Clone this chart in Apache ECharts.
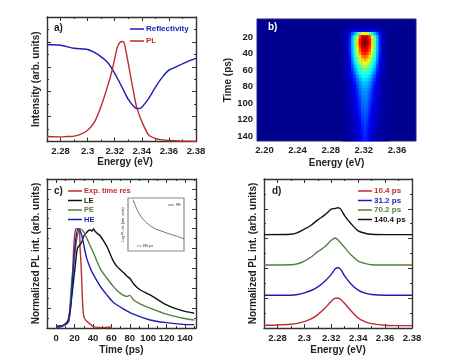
<!DOCTYPE html>
<html>
<head>
<meta charset="utf-8">
<style>
  html, body { margin: 0; padding: 0; background: #fff; }
  #chart { width: 474px; height: 361px; }
</style>
<script src="https://cdn.jsdelivr.net/npm/echarts@6/dist/echarts.min.js"></script>
</head>
<body>
<div id="chart"></div>
<script>
// panel a
const reflEnergy = [2.27, 2.28, 2.29, 2.3, 2.305, 2.31, 2.315, 2.32, 2.325, 2.33, 2.335, 2.3375, 2.34, 2.345, 2.35, 2.355, 2.36, 2.365, 2.37, 2.375, 2.38];
const reflValues = [0.779, 0.773, 0.749, 0.739, 0.715, 0.68, 0.632, 0.547, 0.445, 0.339, 0.272, 0.264, 0.275, 0.344, 0.435, 0.515, 0.573, 0.597, 0.624, 0.648, 0.667];
const plEnergy = [2.27, 2.28, 2.285, 2.29, 2.295, 2.3, 2.305, 2.31, 2.315, 2.318, 2.32, 2.322, 2.324, 2.3255, 2.327, 2.33, 2.335, 2.337, 2.34, 2.345, 2.35, 2.355, 2.36, 2.37, 2.38];
const plValues = [0.04, 0.037, 0.04, 0.043, 0.059, 0.091, 0.155, 0.285, 0.453, 0.568, 0.667, 0.76, 0.797, 0.803, 0.79, 0.627, 0.333, 0.248, 0.16, 0.053, 0.024, 0.013, 0.008, 0.003, 0];
const energyTicks = [2.28, 2.3, 2.32, 2.34, 2.36, 2.38];

// panel b, one cell per hmEnergy step; rows start at hmFirstRow, columns at hmFirstCol
const hmEnergy = [];
for (let k = 0; k < 64; k++) hmEnergy.push((2.1925 + k * 0.003).toFixed(4));
const hmTime = [0, 4, 8, 12, 16, 20, 24, 28, 32, 36, 40, 44, 48, 52, 56, 60, 64, 68, 72, 76, 80, 84, 88, 92, 96, 100, 104, 108, 112, 116, 120, 124, 128, 132, 136, 140, 144];
const hmFirstCol = 34, hmFirstRow = 2;
const hmRows = [
  [1, 1, 2, 2, 3, 3, 3, 3, 3, 3, 3, 3, 3, 3, 3, 2, 2, 1, 1],
  [2, 3, 4, 6, 7, 8, 9, 10, 10, 10, 10, 10, 9, 8, 7, 6, 4, 3, 2],
  [2, 3, 6, 13, 22, 30, 38, 50, 60, 62, 60, 50, 38, 30, 22, 13, 6, 3, 2],
  [2, 3, 6, 15, 30, 44, 60, 80, 92, 94, 92, 80, 60, 44, 30, 15, 6, 3, 2],
  [2, 3, 6, 16, 32, 46, 66, 86, 96, 100, 96, 86, 66, 46, 32, 16, 6, 3, 2],
  [2, 3, 6, 16, 32, 46, 66, 86, 96, 100, 96, 86, 66, 46, 32, 16, 6, 3, 2],
  [2, 3, 6, 16, 32, 46, 64, 82, 92, 96, 92, 82, 64, 46, 32, 16, 6, 3, 2],
  [2, 3, 6, 16, 31, 44, 60, 78, 88, 92, 88, 78, 60, 44, 31, 16, 6, 3, 2],
  [2, 3, 6, 15, 30, 42, 56, 72, 82, 86, 82, 72, 56, 42, 30, 15, 6, 3, 2],
  [2, 3, 6, 14, 28, 40, 52, 65, 74, 78, 74, 65, 52, 40, 28, 14, 6, 3, 2],
  [2, 3, 6, 13, 26, 37, 47, 58, 66, 70, 66, 58, 47, 37, 26, 13, 6, 3, 2],
  [2, 3, 6, 12, 23, 34, 43, 52, 58, 62, 58, 52, 43, 34, 23, 12, 6, 3, 2],
  [2, 3, 5, 11, 20, 31, 38, 46, 52, 54, 52, 46, 38, 31, 20, 11, 5, 3, 2],
  [2, 3, 5, 10, 18, 27, 35, 41, 46, 48, 46, 41, 35, 27, 18, 10, 5, 3, 2],
  [2, 3, 5, 9, 15, 23, 31, 37, 41, 43, 41, 37, 31, 23, 15, 9, 5, 3, 2],
  [2, 3, 4, 8, 13, 20, 27, 33, 37, 38, 37, 33, 27, 20, 13, 8, 4, 3, 2],
  [1, 3, 4, 7, 11, 17, 24, 30, 34, 35, 34, 30, 24, 17, 11, 7, 4, 3, 1],
  [1, 2, 4, 6, 10, 15, 21, 27, 31, 32, 31, 27, 21, 15, 10, 6, 4, 2, 1],
  [1, 2, 3, 6, 9, 13, 19, 25, 29, 30, 29, 25, 19, 13, 9, 6, 3, 2, 1],
  [1, 2, 3, 5, 8, 12, 17, 23, 27, 28, 27, 23, 17, 12, 8, 5, 3, 2, 1],
  [1, 2, 3, 5, 8, 11, 16, 21, 26, 27, 26, 21, 16, 11, 8, 5, 3, 2, 1],
  [1, 2, 3, 5, 7, 10, 15, 20, 25, 26, 25, 20, 15, 10, 7, 5, 3, 2, 1],
  [1, 2, 3, 4, 7, 10, 14, 19, 24, 25, 24, 19, 14, 10, 7, 4, 3, 2, 1],
  [1, 2, 3, 4, 6, 9, 13, 18, 23, 24, 23, 18, 13, 9, 6, 4, 3, 2, 1],
  [1, 2, 3, 4, 6, 9, 12, 17, 22, 23, 22, 17, 12, 9, 6, 4, 3, 2, 1],
  [1, 2, 2, 4, 6, 8, 11, 16, 21, 22, 21, 16, 11, 8, 6, 4, 2, 2, 1],
  [1, 2, 2, 4, 5, 8, 10, 15, 20, 21, 20, 15, 10, 8, 5, 4, 2, 2, 1],
  [1, 1, 2, 3, 5, 7, 10, 14, 19, 21, 19, 14, 10, 7, 5, 3, 2, 1, 1],
  [1, 1, 2, 3, 5, 7, 9, 13, 18, 20, 18, 13, 9, 7, 5, 3, 2, 1, 1],
  [1, 1, 2, 3, 5, 6, 9, 12, 17, 19, 17, 12, 9, 6, 5, 3, 2, 1, 1],
  [1, 1, 2, 3, 4, 6, 8, 12, 16, 19, 16, 12, 8, 6, 4, 3, 2, 1, 1],
  [1, 1, 2, 3, 4, 6, 8, 11, 15, 18, 15, 11, 8, 6, 4, 3, 2, 1, 1],
  [1, 1, 2, 3, 4, 5, 7, 10, 15, 17, 15, 10, 7, 5, 4, 3, 2, 1, 1],
  [0, 1, 2, 3, 4, 5, 7, 10, 14, 17, 14, 10, 7, 5, 4, 3, 2, 1, 0],
  [0, 1, 2, 2, 3, 5, 6, 9, 14, 16, 14, 9, 6, 5, 3, 2, 2, 1, 0]
];
const hmEnergyTicks = [2.2, 2.24, 2.28, 2.32, 2.36];
const hmTimeTicks = [20, 40, 60, 80, 100, 120, 140];
const jetColors = ["#00008f", "#0000ff", "#0080ff", "#00ffff", "#80ff80", "#ffff00", "#ff8000", "#ff0000", "#800000"];

// panel c
const expTime = [0, 5, 8, 13, 15, 17, 19, 20, 21, 22, 25, 26, 27, 28, 29, 30, 32, 35, 38, 41, 50, 60];
const expValues = [0.005, 0.01, 0.027, 0.08, 0.2, 0.38, 0.8, 0.93, 0.99, 1, 1, 0.8, 0.65, 0.42, 0.2, 0.12, 0.08, 0.055, 0.03, 0.012, 0.004, 0.01];
const leTime = [0, 5, 8, 12, 14, 17, 20.6, 23, 26, 28, 30, 33, 35, 37, 39, 40.5, 42, 45, 48, 52, 55, 58, 62, 66, 69.5, 74, 77, 80, 84, 91, 102, 120, 138, 150];
const leValues = [0.014, 0.02, 0.027, 0.045, 0.08, 0.32, 0.62, 0.8, 0.84, 0.87, 0.926, 0.96, 0.98, 0.986, 0.975, 1, 0.976, 0.95, 0.926, 0.87, 0.824, 0.76, 0.676, 0.62, 0.588, 0.55, 0.52, 0.5, 0.446, 0.385, 0.334, 0.233, 0.172, 0.149];
const peTime = [0, 5, 8, 12, 14, 17, 20.6, 23, 26, 30, 33, 40.5, 48, 55, 62, 69.5, 77, 80, 84, 91, 102, 120, 138, 150];
const peValues = [0.014, 0.02, 0.027, 0.05, 0.1, 0.49, 0.77, 0.925, 1, 0.966, 0.909, 0.757, 0.595, 0.503, 0.419, 0.351, 0.318, 0.328, 0.284, 0.243, 0.2, 0.139, 0.098, 0.081];
const heTime = [0, 5, 8, 12, 14, 16, 18, 20, 22, 24, 26, 28, 31, 33, 37, 40.5, 48, 55, 62, 73, 84, 102, 120, 138, 150];
const heValues = [0.014, 0.02, 0.027, 0.054, 0.115, 0.25, 0.52, 0.77, 0.94, 0.995, 0.98, 0.925, 0.79, 0.706, 0.605, 0.537, 0.419, 0.334, 0.26, 0.193, 0.139, 0.081, 0.054, 0.037, 0.034];
const timeTicks = [0, 20, 40, 60, 80, 100, 120, 140];
const insetTime = [9, 15, 21, 27, 33, 42, 51, 63, 75, 87, 100];
const insetValues = [0.968, 0.809, 0.682, 0.599, 0.535, 0.459, 0.408, 0.363, 0.318, 0.28, 0.229];

// panel d
const spec10Energy = [2.27, 2.28, 2.29, 2.295, 2.3, 2.305, 2.31, 2.315, 2.32, 2.323, 2.325, 2.327, 2.33, 2.335, 2.34, 2.345, 2.35, 2.36, 2.37, 2.38];
const spec10Values = [0.09, 0.101, 0.124, 0.157, 0.213, 0.303, 0.449, 0.652, 0.899, 1.0, 1.0, 0.955, 0.82, 0.562, 0.337, 0.213, 0.146, 0.09, 0.079, 0.079];
const spec31Energy = [2.27, 2.29, 2.295, 2.3, 2.305, 2.31, 2.315, 2.32, 2.323, 2.325, 2.327, 2.33, 2.335, 2.34, 2.345, 2.35, 2.36, 2.38];
const spec31Values = [1.101, 1.101, 1.124, 1.18, 1.258, 1.382, 1.562, 1.798, 1.989, 2.022, 1.966, 1.742, 1.461, 1.27, 1.169, 1.124, 1.101, 1.101];
const spec70Energy = [2.27, 2.29, 2.295, 2.3, 2.305, 2.31, 2.315, 2.32, 2.323, 2.325, 2.33, 2.335, 2.34, 2.345, 2.35, 2.36, 2.38];
const spec70Values = [2.112, 2.124, 2.157, 2.247, 2.382, 2.562, 2.719, 2.944, 3.022, 2.955, 2.697, 2.438, 2.247, 2.169, 2.124, 2.112, 2.112];
const spec140Energy = [2.27, 2.29, 2.295, 2.3, 2.305, 2.31, 2.315, 2.318, 2.32, 2.323, 2.325, 2.327, 2.33, 2.335, 2.34, 2.345, 2.35, 2.36, 2.38];
const spec140Values = [3.135, 3.146, 3.202, 3.315, 3.449, 3.629, 3.787, 3.91, 3.989, 4.011, 4.034, 3.989, 3.764, 3.483, 3.258, 3.18, 3.146, 3.135, 3.135];

const red = "#bf2b33", blue = "#1c1cb4", green = "#557f40", black = "#111", ink = "#222";
const font = "Liberation Sans";

const grids = [
  { left: 47, top: 17, width: 149, height: 124.5 },
  { left: 257, top: 19, width: 159, height: 122, show: true, backgroundColor: "#00008f", borderColor: "#23238f", borderWidth: 1 },
  { left: 47, top: 179, width: 149, height: 149 },
  { left: 264, top: 179, width: 148, height: 149 },
  { left: 128, top: 198, width: 56, height: 53, show: true, backgroundColor: "#fff", borderColor: "#888", borderWidth: 1.2 }
];

function zip(xs, ys) {
  return xs.map((x, i) => [x, ys[i]]);
}
function lineSeries(name, x, y, color, xi, yi, width) {
  return {
    name: name, type: "line", data: zip(x, y), xAxisIndex: xi, yAxisIndex: yi,
    symbol: "none", smooth: 0.25, lineStyle: { color: color, width: width || 1.4 }, itemStyle: { color: color }, silent: true
  };
}

let xAxes = [], yAxes = [];
// framed axes: labelled major ticks, mirrored on the far side, plus short minor ticks
function addFrame(list, gridIndex, min, max, minorStep, majors, name, nameGap, horizontal, labels) {
  const sides = horizontal ? ["bottom", "top"] : ["left", "right"];
  const first = list.length;
  sides.forEach((side, s) => {
    list.push({
      type: "value", gridIndex: gridIndex, position: side, min: min, max: max, interval: minorStep,
      splitLine: { show: false },
      axisLine: { show: true, onZero: false, lineStyle: { color: "#333", width: 1.4 } },
      axisTick: { show: true, inside: true, length: 2, lineStyle: { color: "#333", width: 1 } },
      axisLabel: { show: false }
    });
    list.push({
      type: "value", gridIndex: gridIndex, position: side, min: min, max: max,
      name: s === 0 ? name : "", nameLocation: "middle", nameGap: nameGap,
      nameTextStyle: { fontFamily: font, fontWeight: "bold", fontSize: 10, color: ink },
      splitLine: { show: false },
      axisLine: { show: false, onZero: false },
      axisTick: { show: true, inside: true, length: 4, customValues: majors, lineStyle: { color: "#333", width: 1 } },
      axisLabel: {
        show: s === 0 && labels, customValues: majors, margin: 5,
        fontFamily: font, fontWeight: "bold", fontSize: 9.5, color: ink, hideOverlap: false,
        formatter: (v) => String(v)
      }
    });
  });
  return first + 1;
}

// a
const ax = addFrame(xAxes, 0, 2.27, 2.38, 0.01, energyTicks, "Energy (eV)", 14, true, true);
xAxes[ax].nameTextStyle.padding = [0, 0, 0, 7];
const ay = addFrame(yAxes, 0, 0, 1, 0.1, [0, 0.2, 0.4, 0.6, 0.8, 1], "Intensity (arb. units)", 6, false, false);
// c
const cx = addFrame(xAxes, 2, -10, 152, 10, timeTicks, "Time (ps)", 17, true, true);
const cy = addFrame(yAxes, 2, 0, 1.5, 0.1, [0, 0.2, 0.4, 0.6, 0.8, 1, 1.2, 1.4], "Normalized PL int. (arb. units)", 6, false, false);
// d
const dx = addFrame(xAxes, 3, 2.27, 2.38, 0.01, energyTicks, "Energy (eV)", 17, true, true);
const dy = addFrame(yAxes, 3, 0, 5, 0.5, [0, 1, 2, 3, 4, 5], "Normalized PL int. (arb. units)", 6, false, false);

// b: category axes carry the cells, value axes carry the labels
const bCatX = xAxes.length;
xAxes.push({ type: "category", gridIndex: 1, data: hmEnergy, show: false });
const bCatY = yAxes.length;
yAxes.push({ type: "category", gridIndex: 1, data: hmTime, inverse: true, show: false });
xAxes.push({
  type: "value", gridIndex: 1, position: "bottom", min: 2.191, max: 2.383,
  name: "Energy (eV)", nameLocation: "middle", nameGap: 17,
  nameTextStyle: { fontFamily: font, fontWeight: "bold", fontSize: 10, color: ink },
  splitLine: { show: false }, axisLine: { show: false, onZero: false }, axisTick: { show: false },
  axisLabel: { customValues: hmEnergyTicks, margin: 4, fontFamily: font, fontWeight: "bold", fontSize: 9.5, color: ink, formatter: (v) => v.toFixed(2) }
});
yAxes.push({
  type: "value", gridIndex: 1, position: "left", min: -2.3, max: 146, inverse: true,
  name: "Time (ps)", nameLocation: "middle", nameGap: 23,
  nameTextStyle: { fontFamily: font, fontWeight: "bold", fontSize: 10, color: ink },
  splitLine: { show: false }, axisLine: { show: false, onZero: false }, axisTick: { show: false },
  axisLabel: { customValues: hmTimeTicks, margin: 4, fontFamily: font, fontWeight: "bold", fontSize: 9.5, color: ink, formatter: (v) => String(v) }
});

// inset of c
const ix = xAxes.length;
xAxes.push({ type: "value", gridIndex: 4, min: 0, max: 100, splitLine: { show: false }, axisLine: { show: false }, axisTick: { show: false }, axisLabel: { show: false } });
const iy = yAxes.length;
yAxes.push({
  type: "value", gridIndex: 4, min: 0, max: 1, name: "Log PL int. (arb. units)", nameLocation: "middle", nameGap: 3,
  nameTextStyle: { fontFamily: font, fontSize: 3.5, color: ink },
  splitLine: { show: false }, axisLine: { show: false }, axisTick: { show: false }, axisLabel: { show: false }
});

// heat cells
const heatData = [];
hmRows.forEach((row, r) => {
  row.forEach((v, c) => heatData.push([hmFirstCol + c, hmFirstRow + r, v]));
});

const series = [
  lineSeries("Reflectivity", reflEnergy, reflValues, blue, ax, ay),
  lineSeries("PL", plEnergy, plValues, red, ax, ay),
  {
    name: "map", type: "heatmap", data: heatData, xAxisIndex: bCatX, yAxisIndex: bCatY,
    progressive: 0, silent: true, itemStyle: { borderWidth: 0 }
  },
  lineSeries("Exp. time res", expTime, expValues, red, cx, cy),
  lineSeries("LE", leTime, leValues, black, cx, cy),
  lineSeries("PE", peTime, peValues, green, cx, cy),
  lineSeries("HE", heTime, heValues, blue, cx, cy),
  lineSeries("10.4 ps", spec10Energy, spec10Values, red, dx, dy),
  lineSeries("31.2 ps", spec31Energy, spec31Values, blue, dx, dy),
  lineSeries("70.2 ps", spec70Energy, spec70Values, green, dx, dy),
  lineSeries("140.4 ps", spec140Energy, spec140Values, black, dx, dy),
  lineSeries("Inset PE", insetTime, insetValues, "#5f7f55", ix, iy, 1)
];

function legendBlock(names, colors, left, top, gap, size) {
  return {
    orient: "vertical", left: left, top: top, itemWidth: 14, itemHeight: 1.5, itemGap: gap, icon: "rect",
    padding: 0, selectedMode: false,
    data: names.map((n, i) => ({
      name: n, itemStyle: { color: colors[i] },
      textStyle: { color: colors[i], fontFamily: font, fontWeight: "bold", fontSize: size, lineHeight: 10, padding: [0, 0, 0, -3] }
    }))
  };
}

function letter(text, left, top, color) {
  return { text: text, left: left, top: top, padding: 0, textStyle: { fontFamily: font, fontWeight: "bold", fontSize: 10, color: color || ink } };
}

const option = {
  animation: false,
  grid: grids,
  xAxis: xAxes,
  yAxis: yAxes,
  visualMap: {
    show: false, type: "continuous", seriesIndex: 2, dimension: 2, min: 0, max: 100,
    inRange: { color: jetColors }
  },
  title: [
    letter("a)", 54, 23),
    letter("b)", 268, 22, "#fff"),
    letter("c)", 54, 186),
    letter("d)", 272, 186),
    { text: "τ = 190 ps", left: 137, top: 244, padding: 0, textStyle: { fontFamily: font, fontWeight: "normal", fontSize: 3.5, color: ink } }
  ],
  legend: [
    legendBlock(["Reflectivity", "PL"], [blue, red], 130, 24, 2, 8),
    legendBlock(["Exp. time res", "LE", "PE", "HE"], [red, black, green, blue], 68, 186, -0.5, 7.5),
    legendBlock(["10.4 ps", "31.2 ps", "70.2 ps", "140.4 ps"], [red, blue, green, black], 358, 186, -0.5, 8),
    {
      left: 168, top: 203, itemWidth: 6, itemHeight: 1, icon: "rect", padding: 0, selectedMode: false,
      formatter: () => "PE",
      data: [{ name: "Inset PE", itemStyle: { color: "#5f7f55" }, textStyle: { fontFamily: font, fontSize: 3.5, color: ink, padding: [0, 0, 0, -3] } }]
    }
  ],
  series: series
};

const myChart = echarts.init(document.getElementById("chart"), null, { renderer: "canvas" });
myChart.setOption(option);
</script>
</body>
</html>
